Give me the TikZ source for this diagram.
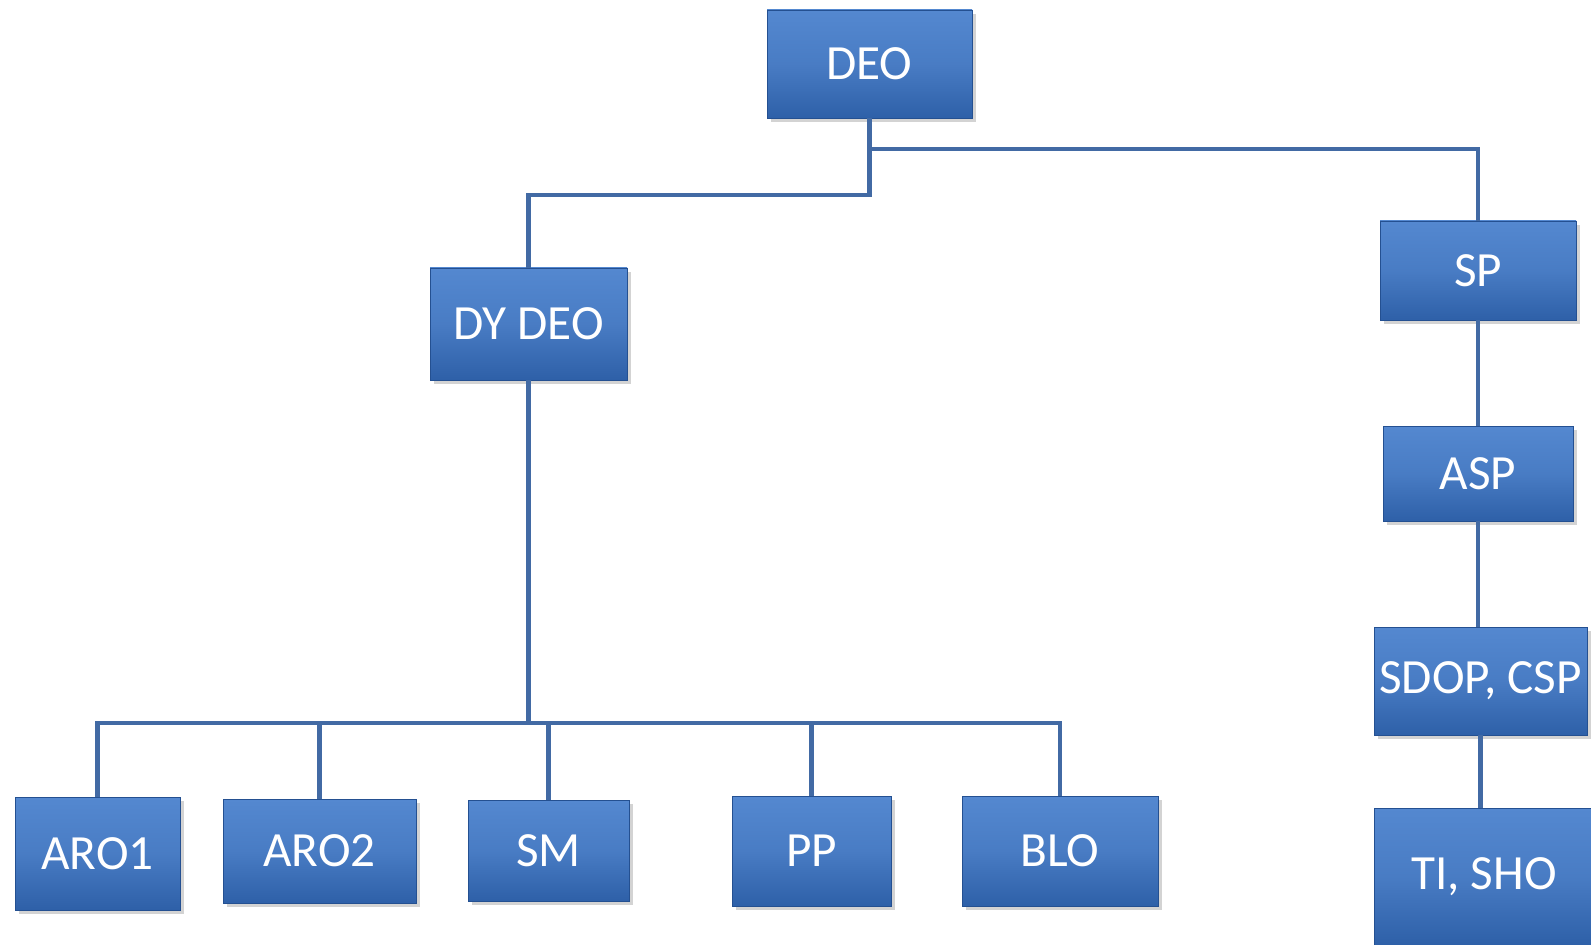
\documentclass[tikz,border=0pt]{standalone}
\usepackage{fontspec}
\setmainfont{Carlito}
\usetikzlibrary{positioning,shadows}
\definecolor{boxtop}{RGB}{84,136,208}
\definecolor{boxbot}{RGB}{46,96,168}
\definecolor{boxline}{RGB}{36,80,145}
\definecolor{wire}{RGB}{66,106,164}

\begin{document}
\begin{tikzpicture}[x=0.02cm,y=-0.02cm,
  post/.style={rectangle,draw=boxline,thin,top color=boxtop,bottom color=boxbot,middle color=boxtop!70!boxbot,
    drop shadow={shadow xshift=2pt,shadow yshift=-2pt,opacity=.35},
    text=white,font=\fontsize{28}{30}\selectfont,inner sep=0pt},
  wire/.style={draw=wire,line width=2.4pt}]
   \useasboundingbox (0,0) rectangle (1591,945);
   \begin{scope}
   \clip (0,0) rectangle (1591,945);
   \node[post,minimum width=205*0.02cm,minimum height=108*0.02cm] (deo)   at (869.5,64)  {DEO};
   \node[post,minimum width=197*0.02cm,minimum height=112*0.02cm] (dydeo) at (528.5,324)  {DY DEO};
   \node[post,minimum width=196*0.02cm,minimum height=99*0.02cm]  (sp)    at (1478,270.5) {SP};
   \node[post,minimum width=190*0.02cm,minimum height=95*0.02cm]  (asp)   at (1478,473.5) {ASP};
   \node[post,minimum width=213*0.02cm,minimum height=108*0.02cm] (sdop)  at (1480.5,681) {SDOP, CSP};
   \node[post,minimum width=220*0.02cm,minimum height=137*0.02cm] (tisho) at (1484,876.5) {TI, SHO};
   \node[post,minimum width=165*0.02cm,minimum height=113*0.02cm] (aro1)  at (97.5,853.5) {ARO1};
   \node[post,minimum width=193*0.02cm,minimum height=104*0.02cm] (aro2)  at (319.5,851)  {ARO2};
   \node[post,minimum width=161*0.02cm,minimum height=101*0.02cm] (sm)    at (548.5,850.5) {SM};
   \node[post,minimum width=159*0.02cm,minimum height=110*0.02cm] (pp)    at (811.5,851)  {PP};
   \node[post,minimum width=196*0.02cm,minimum height=110*0.02cm] (blo)   at (1060,851)   {BLO};
   \end{scope}
   \coordinate (leftbend)  at (869.5,195);
   \coordinate (rightbend) at (869.5,149);
   \coordinate (bus)       at (528.5,723);
   \path[wire]
    (deo.south)  -- (leftbend) -| (dydeo.north)
    (rightbend)  -| (sp.north)
    (dydeo.south) -- (bus)
    (sp.south)   -- (sp.south |- asp.north)
    (asp.south)  -- (asp.south |- sdop.north)
    (sdop.south) -- (sdop.south |- tisho.north);
   \foreach \n in {aro1,aro2,sm,pp,blo}
    \path[wire] (bus) -| (\n.north);
\end{tikzpicture}
\end{document}
